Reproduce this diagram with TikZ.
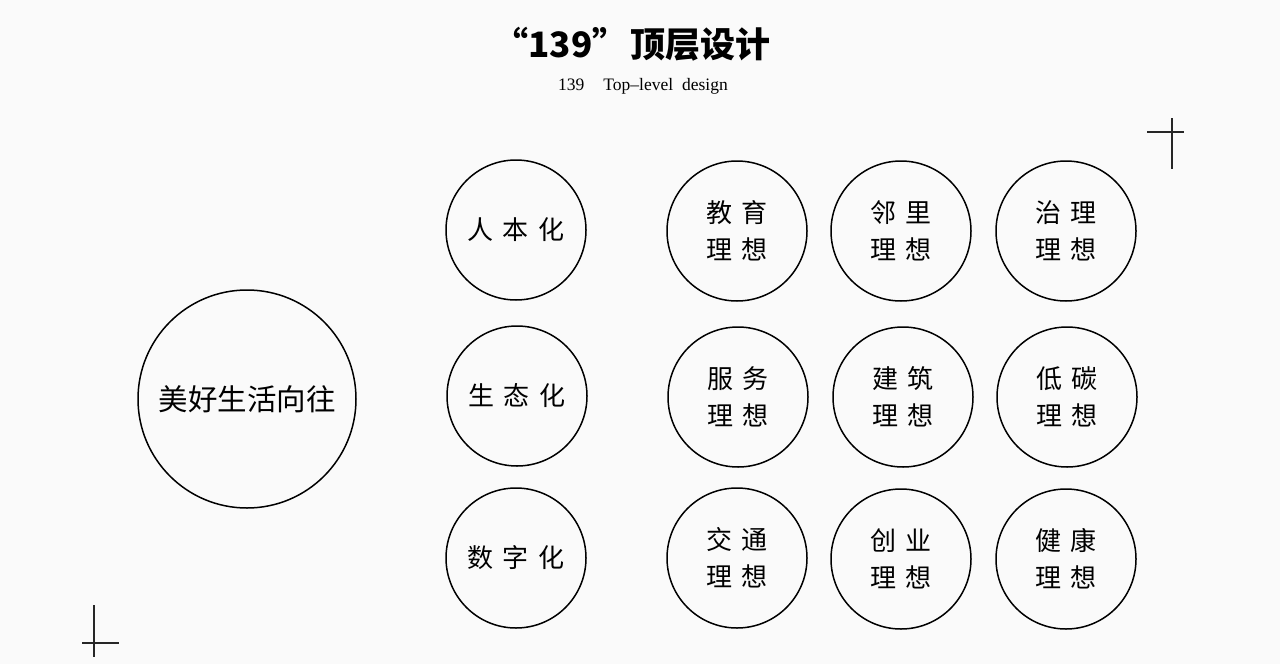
\documentclass[tikz,border=0pt]{standalone}
\usepackage{fontspec}
\newfontfamily\cjk{Noto Sans CJK SC}
\setmainfont{Liberation Serif}
\newcommand{\gp}{\hspace{10pt}}
\begin{document}
\begin{tikzpicture}[x=1pt,y=-1pt,
  ring/.style={circle,draw=black,line width=1.5pt,minimum size=140pt,inner sep=0pt,align=center},
  onelabel/.style={ring,font=\cjk\fontsize{26}{37}\selectfont},
  twolabel/.style={ring,font=\cjk\fontsize{26}{37}\selectfont},
  crossline/.style={line width=2pt,draw=black!85}]
\fill[fill={rgb,255:red,250;green,250;blue,250}] (0,0) rectangle (1280,664);
\useasboundingbox (0,0) rectangle (1280,664);

\node[font=\cjk\bfseries\fontsize{35}{40}\selectfont] (title) at (632,44) {“139”\hspace{3pt}顶层设计};
\node[font=\fontsize{17.5}{20}\selectfont] (subtitle) at (643,86) {139\hspace{19pt}Top–level\hspace{9pt}design};

\node[ring,minimum size=218pt,font=\cjk\fontsize{29.5}{35}\selectfont] (main) at (247,399) {美好生活向往};

\node[onelabel] (c1) at (516,230) {人\gp 本\gp 化};
\node[onelabel] (c2) at (517,396) {生\gp 态\gp 化};
\node[onelabel] (c3) at (516,558) {数\gp 字\gp 化};

\node[twolabel] (g11) at (737,231) {教\gp 育\\理\gp 想};
\node[twolabel] (g12) at (901,231) {邻\gp 里\\理\gp 想};
\node[twolabel] (g13) at (1066,231) {治\gp 理\\理\gp 想};
\node[twolabel] (g21) at (738,397) {服\gp 务\\理\gp 想};
\node[twolabel] (g22) at (903,397) {建\gp 筑\\理\gp 想};
\node[twolabel] (g23) at (1067,397) {低\gp 碳\\理\gp 想};
\node[twolabel] (g31) at (737,558) {交\gp 通\\理\gp 想};
\node[twolabel] (g32) at (901,559) {创\gp 业\\理\gp 想};
\node[twolabel] (g33) at (1066,559) {健\gp 康\\理\gp 想};

\draw[crossline] (1147,132) -- (1184,132);
\draw[crossline] (1172,118) -- (1172,169);
\draw[crossline] (94,605) -- (94,657);
\draw[crossline] (82,643) -- (119,643);
\end{tikzpicture}
\end{document}
